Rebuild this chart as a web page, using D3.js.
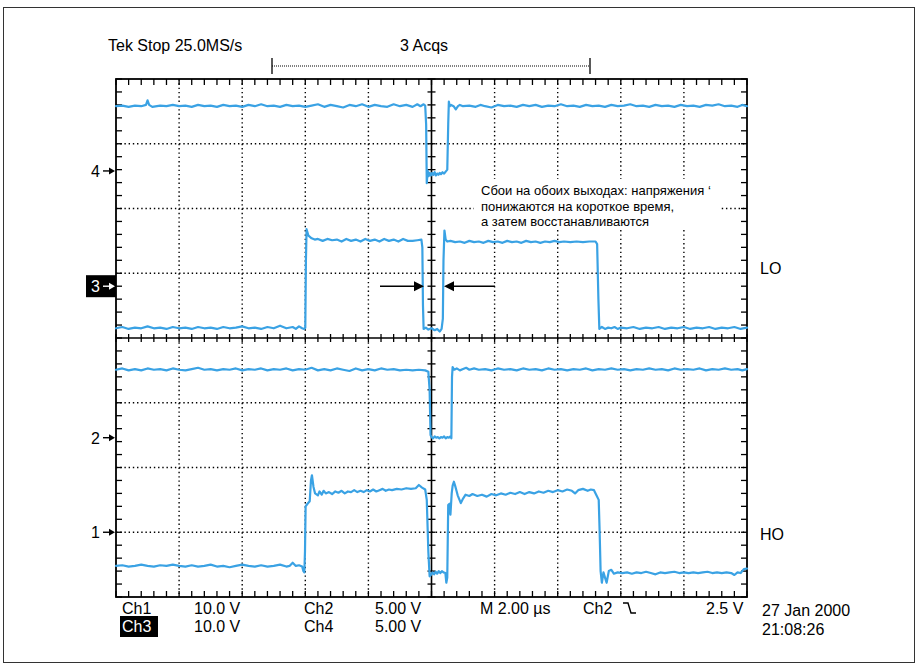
<!DOCTYPE html>
<html><head><meta charset="utf-8">
<script src="https://cdn.jsdelivr.net/npm/d3@7"></script>
<style>
body{margin:0;background:#fff}
svg{display:block}
text{font-family:"Liberation Sans",Arial,sans-serif;fill:#000}
</style>
</head><body>
<svg id="c" width="918" height="666"></svg>
<script>
// ---------- DATA ----------
// time in µs (2 µs/div, trigger at 0), level in screen divisions (centre = 0)
const timeDomain = [-10, 10];
const divDomain = [-4, 4];

// Ch4 (LO upper trace)
const ch4 = [
[-10,3.58],[-9.8,3.59],[-9.6,3.57],[-9.4,3.59],[-9.2,3.58],[-9.05,3.6],[-9.0,3.67],[-8.95,3.6],[-8.85,3.57],[-8.6,3.59],[-8.4,3.58],[-8.2,3.6],[-8.0,3.58],[-7.8,3.59],[-7.6,3.57],[-7.4,3.6],[-7.2,3.58],[-7.0,3.59],[-6.8,3.57],[-6.6,3.6],[-6.4,3.58],[-6.2,3.59],[-6.0,3.57],[-5.8,3.6],[-5.6,3.58],[-5.4,3.61],[-5.2,3.58],[-5.0,3.59],[-4.8,3.57],[-4.6,3.6],[-4.4,3.58],[-4.2,3.59],[-4.0,3.57],[-3.8,3.59],[-3.6,3.61],[-3.4,3.57],[-3.2,3.6],[-3.0,3.58],[-2.8,3.56],[-2.6,3.6],[-2.4,3.58],[-2.2,3.61],[-2.0,3.57],[-1.8,3.6],[-1.6,3.58],[-1.4,3.57],[-1.2,3.61],[-1.0,3.58],[-0.8,3.6],[-0.6,3.57],[-0.45,3.61],[-0.35,3.58],[-0.25,3.61],[-0.2,3.59],[-0.17,3.3],[-0.15,2.39],[-0.12,2.58],[-0.09,2.5],[-0.06,2.55],[-0.02,2.51],[0.02,2.55],[0.06,2.52],[0.1,2.56],[0.14,2.51],[0.18,2.54],[0.22,2.52],[0.26,2.55],[0.3,2.53],[0.35,2.56],[0.4,2.54],[0.45,2.57],[0.5,2.6],[0.53,3.3],[0.55,3.65],[0.58,3.58],[0.62,3.6],[0.7,3.58],[0.77,3.53],[0.84,3.58],[0.9,3.6],[1.0,3.58],[1.2,3.59],[1.4,3.57],[1.55,3.6],[1.7,3.58],[1.9,3.56],[2.1,3.6],[2.3,3.58],[2.5,3.59],[2.7,3.57],[2.9,3.6],[3.1,3.58],[3.3,3.6],[3.5,3.57],[3.7,3.59],[3.9,3.58],[4.1,3.61],[4.3,3.58],[4.5,3.59],[4.7,3.57],[4.9,3.6],[5.1,3.58],[5.3,3.59],[5.5,3.57],[5.7,3.6],[5.9,3.58],[6.1,3.59],[6.3,3.61],[6.5,3.58],[6.7,3.59],[6.9,3.57],[7.1,3.6],[7.3,3.58],[7.5,3.59],[7.7,3.57],[7.9,3.6],[8.1,3.58],[8.3,3.59],[8.5,3.57],[8.7,3.6],[8.9,3.59],[9.1,3.61],[9.3,3.58],[9.5,3.59],[9.7,3.57],[9.85,3.6],[10,3.58]
];

// Ch3 (LO lower trace)
const ch3 = [
[-10,0.15],[-9.8,0.17],[-9.6,0.14],[-9.4,0.16],[-9.2,0.15],[-9.0,0.18],[-8.8,0.15],[-8.6,0.16],[-8.4,0.14],[-8.2,0.17],[-8.0,0.15],[-7.8,0.16],[-7.6,0.14],[-7.4,0.17],[-7.2,0.15],[-7.0,0.16],[-6.8,0.14],[-6.6,0.17],[-6.4,0.15],[-6.2,0.16],[-6.0,0.18],[-5.8,0.15],[-5.6,0.16],[-5.4,0.14],[-5.2,0.17],[-5.0,0.15],[-4.8,0.19],[-4.6,0.15],[-4.4,0.17],[-4.3,0.14],[-4.2,0.18],[-4.1,0.15],[-4.04,0.14],[-4.0,0.16],[-3.98,1.2],[-3.96,1.68],[-3.9,1.58],[-3.8,1.54],[-3.7,1.52],[-3.6,1.53],[-3.45,1.5],[-3.3,1.53],[-3.15,1.51],[-3.0,1.52],[-2.85,1.49],[-2.7,1.53],[-2.55,1.5],[-2.4,1.52],[-2.25,1.49],[-2.1,1.53],[-1.95,1.5],[-1.8,1.52],[-1.65,1.49],[-1.5,1.53],[-1.35,1.5],[-1.2,1.52],[-1.05,1.49],[-0.9,1.53],[-0.75,1.5],[-0.6,1.5],[-0.45,1.51],[-0.32,1.52],[-0.29,1.4],[-0.27,0.5],[-0.25,0.14],[-0.18,0.16],[-0.1,0.13],[0,0.15],[0.1,0.12],[0.18,0.14],[0.26,0.1],[0.32,0.14],[0.36,0.3],[0.38,1.2],[0.41,1.66],[0.45,1.52],[0.5,1.49],[0.6,1.5],[0.75,1.48],[0.9,1.49],[1.05,1.47],[1.2,1.5],[1.35,1.48],[1.5,1.49],[1.65,1.47],[1.8,1.5],[1.95,1.48],[2.1,1.49],[2.25,1.47],[2.4,1.5],[2.55,1.48],[2.7,1.49],[2.85,1.47],[3.0,1.5],[3.15,1.48],[3.3,1.49],[3.45,1.47],[3.6,1.49],[3.75,1.48],[3.9,1.5],[4.05,1.48],[4.2,1.49],[4.4,1.48],[4.6,1.49],[4.8,1.48],[5.0,1.49],[5.2,1.49],[5.25,1.45],[5.29,0.6],[5.32,0.14],[5.4,0.17],[5.5,0.14],[5.6,0.16],[5.7,0.15],[5.8,0.17],[5.9,0.14],[6.0,0.16],[6.2,0.15],[6.4,0.17],[6.6,0.14],[6.8,0.16],[7.0,0.15],[7.2,0.17],[7.4,0.14],[7.6,0.16],[7.8,0.15],[8.0,0.17],[8.2,0.14],[8.4,0.16],[8.6,0.15],[8.8,0.17],[9.0,0.14],[9.2,0.16],[9.4,0.15],[9.6,0.17],[9.8,0.14],[10,0.16]
];

// Ch2 (HO upper trace)
const ch2 = [
[-10,-0.49],[-9.8,-0.47],[-9.6,-0.5],[-9.4,-0.48],[-9.2,-0.5],[-9.0,-0.47],[-8.8,-0.49],[-8.6,-0.48],[-8.4,-0.5],[-8.2,-0.47],[-8.0,-0.49],[-7.8,-0.5],[-7.6,-0.48],[-7.4,-0.46],[-7.2,-0.49],[-7.0,-0.48],[-6.8,-0.5],[-6.6,-0.48],[-6.4,-0.49],[-6.2,-0.47],[-6.0,-0.5],[-5.8,-0.48],[-5.6,-0.49],[-5.4,-0.47],[-5.2,-0.5],[-5.0,-0.48],[-4.8,-0.49],[-4.6,-0.47],[-4.4,-0.5],[-4.2,-0.48],[-4.0,-0.49],[-3.8,-0.46],[-3.6,-0.5],[-3.4,-0.48],[-3.2,-0.5],[-3.0,-0.47],[-2.8,-0.49],[-2.6,-0.51],[-2.4,-0.47],[-2.2,-0.5],[-2.0,-0.48],[-1.8,-0.5],[-1.6,-0.47],[-1.4,-0.49],[-1.2,-0.48],[-1.0,-0.5],[-0.8,-0.49],[-0.6,-0.5],[-0.4,-0.49],[-0.2,-0.5],[-0.1,-0.52],[-0.06,-0.8],[-0.03,-1.5],[0,-1.53],[0.05,-1.55],[0.1,-1.52],[0.15,-1.54],[0.2,-1.53],[0.25,-1.55],[0.3,-1.53],[0.35,-1.54],[0.4,-1.52],[0.45,-1.55],[0.5,-1.53],[0.55,-1.54],[0.6,-1.52],[0.63,-1.55],[0.65,-0.6],[0.67,-0.45],[0.72,-0.49],[0.8,-0.47],[0.9,-0.5],[1.0,-0.48],[1.1,-0.46],[1.2,-0.49],[1.35,-0.47],[1.5,-0.49],[1.7,-0.48],[1.9,-0.5],[2.1,-0.47],[2.3,-0.49],[2.5,-0.48],[2.7,-0.5],[2.9,-0.47],[3.1,-0.49],[3.3,-0.48],[3.5,-0.5],[3.7,-0.47],[3.9,-0.49],[4.1,-0.48],[4.3,-0.5],[4.5,-0.48],[4.7,-0.49],[4.9,-0.47],[5.1,-0.5],[5.3,-0.48],[5.5,-0.49],[5.7,-0.47],[5.9,-0.49],[6.1,-0.48],[6.3,-0.5],[6.5,-0.48],[6.7,-0.49],[6.9,-0.47],[7.1,-0.49],[7.3,-0.48],[7.5,-0.5],[7.7,-0.47],[7.9,-0.49],[8.1,-0.48],[8.3,-0.49],[8.5,-0.47],[8.7,-0.5],[8.9,-0.48],[9.1,-0.49],[9.3,-0.47],[9.5,-0.49],[9.7,-0.48],[9.85,-0.5],[10,-0.48]
];

// Ch1 (HO lower trace)
const ch1 = [
[-10,-3.52],[-9.8,-3.51],[-9.6,-3.53],[-9.4,-3.52],[-9.2,-3.5],[-9.0,-3.52],[-8.8,-3.53],[-8.6,-3.51],[-8.4,-3.52],[-8.2,-3.5],[-8.0,-3.52],[-7.8,-3.53],[-7.6,-3.51],[-7.4,-3.53],[-7.2,-3.52],[-7.0,-3.5],[-6.8,-3.53],[-6.6,-3.52],[-6.4,-3.54],[-6.2,-3.52],[-6.0,-3.5],[-5.8,-3.52],[-5.6,-3.53],[-5.4,-3.51],[-5.2,-3.53],[-5.0,-3.52],[-4.8,-3.5],[-4.6,-3.53],[-4.5,-3.52],[-4.4,-3.47],[-4.3,-3.52],[-4.2,-3.51],[-4.1,-3.53],[-4.06,-3.6],[-4.03,-3.62],[-4.01,-3.3],[-3.99,-2.6],[-3.93,-2.56],[-3.86,-2.52],[-3.82,-2.2],[-3.79,-2.12],[-3.74,-2.3],[-3.69,-2.4],[-3.6,-2.43],[-3.55,-2.37],[-3.48,-2.42],[-3.42,-2.36],[-3.35,-2.4],[-3.25,-2.38],[-3.15,-2.41],[-3.05,-2.37],[-2.95,-2.39],[-2.85,-2.36],[-2.75,-2.4],[-2.65,-2.37],[-2.55,-2.38],[-2.45,-2.35],[-2.35,-2.38],[-2.25,-2.36],[-2.15,-2.38],[-2.05,-2.35],[-1.95,-2.37],[-1.85,-2.34],[-1.75,-2.37],[-1.65,-2.35],[-1.55,-2.33],[-1.45,-2.36],[-1.35,-2.34],[-1.25,-2.35],[-1.1,-2.33],[-0.95,-2.34],[-0.8,-2.32],[-0.65,-2.33],[-0.5,-2.32],[-0.4,-2.27],[-0.3,-2.31],[-0.2,-2.34],[-0.15,-2.5],[-0.1,-3.3],[-0.06,-3.68],[-0.02,-3.66],[0.03,-3.62],[0.08,-3.65],[0.13,-3.61],[0.18,-3.64],[0.23,-3.6],[0.28,-3.63],[0.33,-3.6],[0.38,-3.62],[0.44,-3.63],[0.47,-3.78],[0.5,-3.7],[0.53,-2.58],[0.57,-2.56],[0.6,-2.73],[0.64,-2.4],[0.67,-2.28],[0.71,-2.22],[0.76,-2.3],[0.83,-2.43],[0.93,-2.55],[1.0,-2.48],[1.08,-2.42],[1.2,-2.44],[1.3,-2.41],[1.45,-2.44],[1.6,-2.42],[1.75,-2.45],[1.9,-2.41],[2.05,-2.43],[2.2,-2.4],[2.35,-2.42],[2.5,-2.39],[2.65,-2.41],[2.8,-2.38],[2.95,-2.41],[3.1,-2.38],[3.25,-2.4],[3.4,-2.37],[3.55,-2.39],[3.7,-2.36],[3.85,-2.38],[4.0,-2.35],[4.15,-2.37],[4.3,-2.34],[4.45,-2.36],[4.55,-2.4],[4.65,-2.35],[4.8,-2.33],[4.95,-2.36],[5.05,-2.34],[5.15,-2.35],[5.22,-2.42],[5.3,-2.5],[5.33,-3.0],[5.36,-3.6],[5.4,-3.78],[5.45,-3.62],[5.5,-3.7],[5.55,-3.78],[5.62,-3.6],[5.7,-3.58],[5.78,-3.64],[5.9,-3.62],[6.05,-3.63],[6.2,-3.62],[6.35,-3.64],[6.5,-3.62],[6.65,-3.63],[6.8,-3.61],[6.95,-3.63],[7.1,-3.65],[7.25,-3.62],[7.4,-3.63],[7.55,-3.62],[7.7,-3.61],[7.85,-3.63],[8.0,-3.62],[8.15,-3.63],[8.3,-3.62],[8.45,-3.63],[8.6,-3.62],[8.75,-3.61],[8.9,-3.63],[9.05,-3.62],[9.2,-3.63],[9.35,-3.62],[9.5,-3.63],[9.6,-3.66],[9.7,-3.62],[9.8,-3.63],[9.9,-3.57],[10,-3.56]
];

const traces = [ch4, ch3, ch2, ch1];

// channel reference markers (left side)
const markerLabels = ["4", "3", "2", "1"];
const markerLevels = [2.58, 0.8, -1.54, -3.0];
const markerActive = [false, true, false, false];

// right-side labels
const sideLabels = ["LO", "HO"];
const sideLevels = [1.08, -3.03];

// header and footer texts
const headerLeft = "Tek Stop 25.0MS/s";
const headerAcq = "3 Acqs";
const footerRow1 = ["Ch1", "10.0 V", "Ch2", "5.00 V", "M 2.00 \u00b5s", "Ch2", "2.5 V"];
const footerRow2 = ["Ch3", "10.0 V", "Ch4", "5.00 V"];
const dateText = ["27 Jan 2000", "21:08:26"];
const noteLines = ["Сбои на обоих выходах: напряжения \u2018", "понижаются на короткое время,", "а затем восстанавливаются"];

// ---------- DRAW ----------
const svg = d3.select("#c");
const X0 = 116, X1 = 747, Y0 = 79, Y1 = 597;
const x = d3.scaleLinear().domain(timeDomain).range([X0, X1]);
const y = d3.scaleLinear().domain(divDomain).range([Y1, Y0]);
const traceColor = "#3aa2e4";

// outer frame
svg.append("rect").attr("x", 3.5).attr("y", 7.5).attr("width", 911).attr("height", 655)
  .attr("fill", "none").attr("stroke", "#333").attr("stroke-width", 1);

const g = svg.append("g");
const dotPeriodX = (x(2) - x(0)) / 15;
const dotPeriodY = (y(0) - y(1)) / 15;

// dotted major grid
d3.range(-8, 9, 2).filter(v => v !== 0).forEach(v => {
  g.append("line").attr("x1", x(v)).attr("x2", x(v)).attr("y1", Y0).attr("y2", Y1)
    .attr("stroke", "#000").attr("stroke-width", 1.4)
    .attr("stroke-dasharray", `1.4 ${dotPeriodY - 1.4}`);
});
d3.range(-3, 4, 1).filter(v => v !== 0).forEach(v => {
  g.append("line").attr("x1", X0).attr("x2", X1).attr("y1", y(v)).attr("y2", y(v))
    .attr("stroke", "#000").attr("stroke-width", 1.4)
    .attr("stroke-dasharray", `1.4 ${dotPeriodX - 1.4}`);
});

// white background for the note
svg.append("rect").attr("x", 474).attr("y", 179).attr("width", 246).attr("height", 50).attr("fill", "#fff");

// centre cross
g.append("line").attr("x1", x(0)).attr("x2", x(0)).attr("y1", Y0).attr("y2", Y1).attr("stroke", "#000").attr("stroke-width", 1.6);
g.append("line").attr("x1", X0).attr("x2", X1).attr("y1", y(0)).attr("y2", y(0)).attr("stroke", "#000").attr("stroke-width", 1.6);

// minor ticks
const tickX = d3.range(-10, 10.001, 0.4);
const tickY = d3.range(-4, 4.001, 0.2);
const tk = svg.append("g").attr("stroke", "#000").attr("stroke-width", 1.3);
tickX.forEach(v => {
  tk.append("line").attr("x1", x(v)).attr("x2", x(v)).attr("y1", Y0).attr("y2", Y0 + 6);
  tk.append("line").attr("x1", x(v)).attr("x2", x(v)).attr("y1", Y1).attr("y2", Y1 - 6);
  tk.append("line").attr("x1", x(v)).attr("x2", x(v)).attr("y1", y(0) - 4).attr("y2", y(0) + 4);
});
tickY.forEach(v => {
  tk.append("line").attr("x1", X0).attr("x2", X0 + 6).attr("y1", y(v)).attr("y2", y(v));
  tk.append("line").attr("x1", X1).attr("x2", X1 - 6).attr("y1", y(v)).attr("y2", y(v));
  tk.append("line").attr("x1", x(0) - 4).attr("x2", x(0) + 4).attr("y1", y(v)).attr("y2", y(v));
});

// graticule border
svg.append("rect").attr("x", X0).attr("y", Y0).attr("width", X1 - X0).attr("height", Y1 - Y0)
  .attr("fill", "none").attr("stroke", "#000").attr("stroke-width", 1.8);

// traces
const line = d3.line().x(d => x(d[0])).y(d => y(d[1]));
svg.append("g").selectAll("path").data(traces).join("path")
  .attr("d", line).attr("fill", "none").attr("stroke", traceColor)
  .attr("stroke-width", 2.2).attr("stroke-linejoin", "round").attr("stroke-linecap", "round");

// arrows pointing at the glitch
function arrow(xFrom, xTip, yy) {
  const dir = Math.sign(xTip - xFrom);
  svg.append("line").attr("x1", xFrom).attr("x2", xTip - dir * 6).attr("y1", yy).attr("y2", yy)
    .attr("stroke", "#000").attr("stroke-width", 1.4);
  svg.append("path").attr("d", `M${xTip},${yy} L${xTip - dir * 10},${yy - 5} L${xTip - dir * 10},${yy + 5} Z`).attr("fill", "#000");
}
arrow(380, 424, y(0.8));
arrow(495, 444, y(0.8));

// left markers
markerLabels.forEach((lab, i) => {
  const yy = y(markerLevels[i]);
  const col = markerActive[i] ? "#fff" : "#000";
  if (markerActive[i]) {
    svg.append("rect").attr("x", 86).attr("y", yy - 11).attr("width", X0 - 86).attr("height", 22).attr("fill", "#000");
  }
  svg.append("text").attr("x", 91).attr("y", yy + 6).attr("font-size", 16).style("fill", col).text(lab);
  svg.append("line").attr("x1", 103).attr("x2", X0 - 5).attr("y1", yy).attr("y2", yy).attr("stroke", col).attr("stroke-width", 1.4);
  svg.append("path").attr("d", `M${X0 - 1},${yy} L${X0 - 7},${yy - 3.5} L${X0 - 7},${yy + 3.5} Z`).attr("fill", col);
});

// right labels
sideLabels.forEach((lab, i) => {
  svg.append("text").attr("x", 760).attr("y", y(sideLevels[i]) + 6).attr("font-size", 16).text(lab);
});

// header
svg.append("text").attr("x", 108).attr("y", 51).attr("font-size", 16).text(headerLeft);
svg.append("text").attr("x", 400).attr("y", 51).attr("font-size", 16).text(headerAcq);
svg.append("line").attr("x1", 272).attr("x2", 590).attr("y1", 66).attr("y2", 66).attr("stroke", "#000").attr("stroke-width", 1).attr("stroke-dasharray", "1 1");
[272, 590].forEach(xx => svg.append("line").attr("x1", xx).attr("x2", xx).attr("y1", 58).attr("y2", 74).attr("stroke", "#000").attr("stroke-width", 1.3));

// note
noteLines.forEach((t, i) => {
  svg.append("text").attr("x", 481).attr("y", 195 + i * 15.5).attr("font-size", 13).text(t);
});

// footer
const row1X = [122, 194, 304, 375, 480, 583, 706];
const row2X = [122, 194, 304, 375];
footerRow1.forEach((t, i) => svg.append("text").attr("x", row1X[i]).attr("y", 614).attr("font-size", 16).text(t));
svg.append("rect").attr("x", 120).attr("y", 616).attr("width", 38).attr("height", 21).attr("fill", "#000");
footerRow2.forEach((t, i) => svg.append("text").attr("x", row2X[i]).attr("y", 632).attr("font-size", 16).style("fill", i === 0 ? "#fff" : "#000").text(t));
svg.append("path").attr("d", "M623,603 H628 L631,613 H636").attr("fill", "none").attr("stroke", "#000").attr("stroke-width", 1.4);
dateText.forEach((t, i) => svg.append("text").attr("x", 762).attr("y", 616 + i * 19).attr("font-size", 16).text(t));
</script>
</body></html>
